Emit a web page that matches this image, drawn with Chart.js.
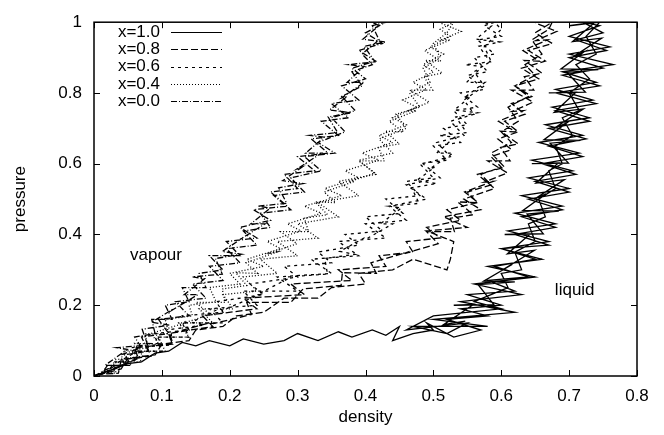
<!DOCTYPE html>
<html>
<head>
<meta charset="utf-8">
<script src="https://cdn.jsdelivr.net/npm/chart.js@4.4.1/dist/chart.umd.min.js"></script>
<style>
  body { margin: 0; background: #fff; }
  #wrap { width: 664px; height: 435px; position: relative; }
</style>
</head>
<body>
<div id="wrap"><canvas id="grafico"></canvas></div>
<script>
// series labels and tick values
const seriesLabels = ['x=1.0', 'x=0.8', 'x=0.6', 'x=0.4', 'x=0.0'];
const densityTicks = [0, 0.1, 0.2, 0.3, 0.4, 0.5, 0.6, 0.7, 0.8];
const pressureTicks = [0, 0.2, 0.4, 0.6, 0.8, 1];

// [density, pressure] (each run wanders up and down its band)
const x10 = [
  [0,0],[0.03,0.02],[0.05,0.035],[0.07,0.04],[0.09,0.065],[0.11,0.07],[0.13,0.095],[0.15,0.085],[0.17,0.1],
  [0.2,0.085],[0.22,0.105],[0.25,0.09],[0.28,0.1],[0.3,0.12],[0.33,0.1],[0.36,0.125],[0.38,0.11],[0.41,0.13],
  [0.43,0.115],[0.45,0.14],[0.44,0.1],[0.47,0.12],[0.5,0.13],[0.49,0.15],
  [0.53,0.11],[0.57,0.13],[0.52,0.16],[0.58,0.17],[0.54,0.19],[0.6,0.2],[0.55,0.23],[0.62,0.24],[0.58,0.27],
  [0.64,0.28],[0.59,0.31],[0.65,0.33],[0.6,0.36],[0.67,0.37],[0.62,0.4],[0.68,0.42],[0.63,0.45],[0.69,0.47],
  [0.64,0.5],[0.7,0.52],[0.65,0.55],[0.71,0.57],[0.66,0.6],[0.72,0.62],[0.67,0.65],[0.725,0.67],[0.67,0.7],
  [0.73,0.72],[0.68,0.75],[0.74,0.77],[0.68,0.8],[0.745,0.82],[0.69,0.85],[0.75,0.87],[0.7,0.9],[0.755,0.92],
  [0.71,0.95],[0.75,0.97],[0.72,1.0],
  [0.745,0.99],[0.7,0.96],[0.76,0.93],[0.7,0.91],[0.765,0.88],[0.69,0.86],[0.74,0.83],[0.68,0.81],[0.735,0.78],
  [0.675,0.76],[0.73,0.73],[0.665,0.71],[0.72,0.68],[0.655,0.66],[0.715,0.63],[0.645,0.61],[0.705,0.58],
  [0.64,0.56],[0.7,0.53],[0.63,0.51],[0.69,0.48],[0.62,0.46],[0.68,0.43],[0.61,0.41],[0.67,0.38],[0.6,0.36],
  [0.66,0.33],[0.58,0.31],[0.65,0.28],[0.56,0.26],[0.63,0.23],[0.54,0.21],[0.62,0.18],[0.5,0.16],[0.58,0.14],
  [0.47,0.14],[0.52,0.12],[0.55,0.15],[0.46,0.13],
  [0.5,0.17],[0.6,0.19],[0.56,0.21],[0.61,0.25],[0.6,0.29],[0.63,0.3],[0.62,0.35],[0.65,0.38],[0.64,0.43],
  [0.665,0.45],[0.655,0.5],[0.68,0.53],[0.67,0.58],[0.69,0.6],[0.68,0.65],[0.705,0.68],[0.69,0.73],[0.715,0.75],
  [0.7,0.8],[0.73,0.84],[0.71,0.88],[0.74,0.91],[0.725,0.96],[0.745,1.0]
];
const x10b = [
  [0.70,0.99],[0.738,1.0],[0.705,0.945],[0.748,0.955],[0.703,0.899],[0.721,0.915],[0.688,0.868],[0.743,0.866],
  [0.697,0.858],[0.724,0.802],[0.67,0.8],[0.71,0.802],[0.678,0.745],[0.721,0.755],[0.677,0.699],[0.696,0.715],
  [0.663,0.668],[0.717,0.666],[0.672,0.658],[0.699,0.602],[0.645,0.6],[0.684,0.602],[0.651,0.545],[0.693,0.555],
  [0.648,0.499],[0.666,0.515],[0.632,0.468],[0.685,0.466],[0.638,0.458],[0.662,0.402],[0.605,0.4],[0.643,0.402],
  [0.609,0.345],[0.649,0.355],[0.601,0.299],[0.616,0.315],[0.574,0.268],[0.62,0.266],[0.566,0.258],[0.589,0.202],
  [0.53,0.2],[0.559,0.202],[0.515,0.145],[0.547,0.155]
];
const x08 = [
  [0,0],[0.03,0.02],[0.065,0.05],[0.06,0.08],[0.115,0.09],[0.11,0.12],[0.175,0.14],[0.16,0.17],[0.24,0.19],
  [0.22,0.22],[0.31,0.23],[0.29,0.26],[0.38,0.27],[0.36,0.3],[0.43,0.31],[0.42,0.34],[0.47,0.35],[0.46,0.38],
  [0.51,0.39],[0.49,0.42],[0.54,0.44],[0.52,0.47],[0.565,0.49],[0.55,0.52],[0.585,0.54],[0.57,0.57],[0.6,0.59],
  [0.585,0.62],[0.615,0.64],[0.595,0.67],[0.625,0.69],[0.605,0.72],[0.635,0.74],[0.615,0.77],[0.645,0.79],
  [0.62,0.82],[0.655,0.84],[0.63,0.87],[0.665,0.89],[0.64,0.92],[0.675,0.94],[0.65,0.97],[0.675,1.0],
  [0.67,0.98],[0.645,0.95],[0.66,0.91],[0.635,0.88],[0.65,0.85],[0.62,0.82],[0.64,0.79],[0.61,0.76],[0.625,0.72],
  [0.6,0.69],[0.615,0.66],[0.585,0.63],[0.605,0.59],[0.565,0.57],[0.59,0.53],[0.545,0.5],[0.57,0.47],[0.515,0.45],
  [0.55,0.42],[0.49,0.41],[0.53,0.38],[0.525,0.33],[0.52,0.3],[0.47,0.33],[0.44,0.3],[0.39,0.29],[0.4,0.26],
  [0.35,0.25],[0.33,0.22],[0.28,0.22],[0.25,0.18],[0.21,0.17],[0.19,0.14],[0.15,0.13],[0.14,0.1],[0.1,0.09],
  [0.09,0.06],[0.05,0.05],[0.04,0.02],[0.01,0.005]
];
const x08b = [
  [0.036,0.008],[0.04,0.046],[0.084,0.056],[0.076,0.092],[0.116,0.09],[0.112,0.12],[0.17,0.15],[0.176,0.148],
  [0.232,0.174],[0.225,0.208],[0.29,0.208],[0.308,0.246],[0.364,0.256],[0.366,0.292],[0.416,0.29],[0.408,0.32],
  [0.462,0.35],[0.461,0.348],[0.507,0.374],[0.49,0.408],[0.531,0.408],[0.525,0.446],[0.559,0.456],[0.536,0.492],
  [0.566,0.49],[0.546,0.52],[0.588,0.55],[0.575,0.548],[0.609,0.574],[0.58,0.608],[0.613,0.608],[0.599,0.646],
  [0.625,0.656],[0.599,0.692],[0.621,0.69],[0.596,0.72],[0.633,0.75],[0.616,0.748],[0.647,0.774],[0.615,0.808],
  [0.648,0.808],[0.634,0.846],[0.66,0.856],[0.634,0.892],[0.656,0.89],[0.632,0.92],[0.668,0.95],[0.651,0.948],
  [0.682,0.974],[0.65,0.998]
];
const x06 = [
  [0,0],[0.03,0.02],[0.06,0.05],[0.055,0.08],[0.1,0.09],[0.09,0.12],[0.14,0.13],[0.13,0.17],[0.19,0.18],
  [0.18,0.21],[0.25,0.23],[0.23,0.26],[0.3,0.28],[0.28,0.31],[0.35,0.32],[0.33,0.35],[0.39,0.37],[0.37,0.4],
  [0.425,0.41],[0.4,0.45],[0.455,0.46],[0.43,0.5],[0.48,0.51],[0.46,0.55],[0.5,0.56],[0.48,0.6],[0.52,0.61],
  [0.5,0.65],[0.54,0.66],[0.515,0.7],[0.55,0.71],[0.53,0.75],[0.565,0.76],[0.54,0.8],[0.575,0.81],[0.55,0.85],
  [0.58,0.86],[0.56,0.9],[0.59,0.91],[0.565,0.95],[0.6,0.96],[0.575,0.99],[0.59,1.0],
  [0.6,0.98],[0.575,0.93],[0.585,0.89],[0.56,0.86],[0.575,0.82],[0.545,0.78],[0.56,0.74],[0.525,0.72],
  [0.545,0.68],[0.505,0.66],[0.525,0.62],[0.485,0.6],[0.51,0.56],[0.46,0.54],[0.49,0.5],[0.435,0.48],[0.46,0.44],
  [0.4,0.43],[0.43,0.39],[0.36,0.38],[0.39,0.34],[0.32,0.33],[0.35,0.29],[0.27,0.28],[0.3,0.24],[0.22,0.24],
  [0.24,0.2],[0.17,0.19],[0.19,0.15],[0.13,0.15],[0.14,0.11],[0.09,0.11],[0.1,0.07],[0.06,0.07],[0.06,0.04],
  [0.03,0.04],[0.02,0.01]
];
const x06b = [
  [0.038,0.03],[0.028,0.03],[0.068,0.075],[0.06,0.08],[0.114,0.088],[0.114,0.132],[0.162,0.144],[0.144,0.152],
  [0.184,0.19],[0.19,0.186],[0.244,0.23],[0.24,0.23],[0.286,0.275],[0.284,0.28],[0.344,0.288],[0.34,0.332],
  [0.384,0.344],[0.362,0.352],[0.398,0.39],[0.40,0.386],[0.44,0.43],[0.422,0.43],[0.453,0.475],[0.435,0.48],
  [0.479,0.488],[0.468,0.532],[0.505,0.544],[0.475,0.552],[0.502,0.59],[0.495,0.586],[0.529,0.63],[0.505,0.63],
  [0.531,0.675],[0.509,0.68],[0.549,0.688],[0.533,0.732],[0.565,0.744],[0.531,0.752],[0.555,0.79],[0.545,0.786],
  [0.576,0.83],[0.549,0.83],[0.572,0.875],[0.547,0.88],[0.584,0.888],[0.567,0.932],[0.598,0.944],[0.563,0.952],
  [0.586,0.99],[0.575,1.0]
];
const x04 = [
  [0,0],[0.03,0.02],[0.05,0.04],[0.045,0.07],[0.08,0.08],[0.075,0.12],[0.11,0.12],[0.105,0.16],[0.145,0.17],
  [0.14,0.2],[0.18,0.21],[0.17,0.25],[0.215,0.26],[0.2,0.29],[0.25,0.31],[0.225,0.33],[0.275,0.36],[0.255,0.38],
  [0.305,0.41],[0.285,0.43],[0.335,0.46],[0.31,0.48],[0.365,0.51],[0.34,0.53],[0.39,0.56],[0.37,0.58],[0.42,0.61],
  [0.395,0.63],[0.44,0.66],[0.42,0.68],[0.46,0.71],[0.44,0.73],[0.475,0.76],[0.455,0.78],[0.49,0.81],[0.47,0.83],
  [0.5,0.86],[0.485,0.88],[0.515,0.91],[0.495,0.93],[0.525,0.96],[0.51,0.98],[0.53,1.0],
  [0.52,0.97],[0.5,0.94],[0.51,0.9],[0.485,0.87],[0.495,0.83],[0.465,0.8],[0.48,0.76],[0.445,0.74],[0.46,0.7],
  [0.42,0.67],[0.44,0.63],[0.39,0.61],[0.415,0.57],[0.36,0.55],[0.39,0.51],[0.33,0.49],[0.36,0.45],[0.3,0.43],
  [0.33,0.39],[0.27,0.38],[0.3,0.34],[0.245,0.33],[0.27,0.29],[0.22,0.28],[0.24,0.24],[0.19,0.23],[0.205,0.19],
  [0.155,0.19],[0.175,0.15],[0.125,0.15],[0.14,0.11],[0.095,0.11],[0.105,0.07],[0.06,0.07],[0.07,0.04],
  [0.03,0.04],[0.02,0.01]
];
const x04b = [
  [0.032,0.008],[0.032,0.046],[0.072,0.056],[0.06,0.092],[0.096,0.09],[0.084,0.12],[0.134,0.15],[0.13,0.148],
  [0.171,0.174],[0.15,0.208],[0.193,0.208],[0.189,0.246],[0.225,0.256],[0.209,0.292],[0.241,0.29],[0.224,0.32],
  [0.269,0.35],[0.26,0.348],[0.299,0.374],[0.275,0.408],[0.316,0.408],[0.31,0.446],[0.344,0.456],[0.326,0.492],
  [0.356,0.49],[0.339,0.52],[0.384,0.55],[0.375,0.548],[0.414,0.574],[0.39,0.608],[0.428,0.608],[0.419,0.646],
  [0.45,0.656],[0.429,0.692],[0.456,0.69],[0.435,0.72],[0.475,0.75],[0.461,0.748],[0.494,0.774],[0.465,0.808],
  [0.499,0.808],[0.486,0.846],[0.513,0.856],[0.488,0.892],[0.511,0.89],[0.487,0.92],[0.525,0.95],[0.509,0.948],
  [0.541,0.974],[0.51,0.998]
];
const x00 = [
  [0,0],[0.02,0.02],[0.045,0.03],[0.04,0.06],[0.07,0.08],[0.06,0.11],[0.09,0.12],[0.085,0.16],[0.115,0.16],
  [0.105,0.2],[0.14,0.21],[0.13,0.25],[0.165,0.25],[0.155,0.29],[0.19,0.3],[0.17,0.34],[0.215,0.34],[0.195,0.38],
  [0.24,0.39],[0.215,0.42],[0.26,0.44],[0.235,0.47],[0.285,0.48],[0.26,0.52],[0.3,0.53],[0.28,0.57],[0.325,0.58],
  [0.3,0.62],[0.345,0.63],[0.32,0.67],[0.36,0.68],[0.335,0.72],[0.375,0.73],[0.35,0.77],[0.39,0.78],[0.365,0.82],
  [0.4,0.84],[0.38,0.87],[0.415,0.89],[0.39,0.92],[0.425,0.94],[0.4,0.97],[0.43,1.0],
  [0.41,0.99],[0.42,0.95],[0.395,0.91],[0.41,0.88],[0.38,0.86],[0.395,0.82],[0.365,0.79],[0.385,0.75],[0.35,0.73],
  [0.37,0.69],[0.33,0.66],[0.355,0.63],[0.31,0.62],[0.335,0.58],[0.29,0.56],[0.31,0.52],[0.265,0.51],[0.29,0.47],
  [0.245,0.46],[0.26,0.42],[0.22,0.41],[0.24,0.37],[0.195,0.36],[0.215,0.32],[0.17,0.31],[0.19,0.27],[0.145,0.26],
  [0.165,0.22],[0.12,0.21],[0.14,0.17],[0.095,0.16],[0.11,0.12],[0.07,0.11],[0.08,0.07],[0.045,0.06],[0.055,0.03],
  [0.02,0.03],[0.01,0.005]
];
const x00b = [
  [0.032,0.03],[0.016,0.03],[0.049,0.075],[0.033,0.08],[0.079,0.088],[0.071,0.132],[0.111,0.144],[0.085,0.152],
  [0.117,0.19],[0.115,0.186],[0.153,0.23],[0.133,0.23],[0.163,0.275],[0.145,0.28],[0.189,0.288],[0.179,0.332],
  [0.217,0.344],[0.189,0.352],[0.219,0.39],[0.215,0.386],[0.252,0.43],[0.231,0.43],[0.26,0.475],[0.241,0.48],
  [0.284,0.488],[0.272,0.532],[0.308,0.544],[0.278,0.552],[0.306,0.59],[0.30,0.586],[0.335,0.63],[0.312,0.63],
  [0.339,0.675],[0.318,0.68],[0.359,0.688],[0.345,0.732],[0.379,0.744],[0.347,0.752],[0.373,0.79],[0.365,0.786],
  [0.398,0.83],[0.373,0.83],[0.398,0.875],[0.375,0.88],[0.414,0.888],[0.398,0.932],[0.43,0.944],[0.396,0.952],
  [0.42,0.99],[0.41,1.0]
];
const seriesData = [x10.concat(x10b), x08.concat(x08b), x06.concat(x06b), x04.concat(x04b), x00.concat(x00b)];
const seriesDash = [[], [7, 3], [3, 4], [1, 2], [6, 2, 1, 2]];

const FONTE = '17px "Liberation Sans", Arial, sans-serif';
Chart.defaults.color = '#000';
Chart.defaults.font.family = '"Liberation Sans", Arial, sans-serif';
Chart.defaults.font.size = 17;

// gnuplot style: box border, ticks pointing in on all four sides
const molduraPlugin = {
  id: 'moldura',
  afterDatasetsDraw(chart) {
    const { ctx, chartArea: a, scales: { x, y } } = chart;
    ctx.save();
    ctx.strokeStyle = '#000';
    ctx.lineWidth = 1;
    ctx.setLineDash([]);
    ctx.beginPath();
    densityTicks.forEach(v => {
      const px = Math.round(x.getPixelForValue(v)) + 0.5;
      ctx.moveTo(px, a.bottom); ctx.lineTo(px, a.bottom - 6);
      ctx.moveTo(px, a.top); ctx.lineTo(px, a.top + 6);
    });
    pressureTicks.forEach(v => {
      const py = Math.round(y.getPixelForValue(v)) + 0.5;
      ctx.moveTo(a.left, py); ctx.lineTo(a.left + 6, py);
      ctx.moveTo(a.right, py); ctx.lineTo(a.right - 6, py);
    });
    ctx.stroke();
    ctx.lineWidth = 1.5;
    ctx.strokeRect(a.left, a.top, a.right - a.left, a.bottom - a.top);

    // legend: text right aligned, line sample on the right
    ctx.font = FONTE;
    ctx.fillStyle = '#000';
    ctx.textAlign = 'right';
    ctx.textBaseline = 'middle';
    ctx.lineWidth = 1;
    chart.data.datasets.forEach((ds, i) => {
      const yy = 32 + i * 17.3;
      ctx.fillText(ds.label, 160, yy);
      ctx.setLineDash(ds.borderDash);
      ctx.beginPath();
      ctx.moveTo(171, Math.round(yy) + 0.5);
      ctx.lineTo(222, Math.round(yy) + 0.5);
      ctx.stroke();
    });
    ctx.setLineDash([]);

    ctx.textAlign = 'left';
    ctx.fillText('vapour', x.getPixelForValue(0.053), y.getPixelForValue(0.34));
    ctx.fillText('liquid', x.getPixelForValue(0.679), y.getPixelForValue(0.242));
    ctx.restore();
  }
};

const ctx = document.getElementById('grafico').getContext('2d');
new Chart(ctx, {
  type: 'scatter',
  data: {
    datasets: seriesLabels.map((label, i) => ({
      label: label,
      data: seriesData[i].map(p => ({ x: p[0], y: p[1] })),
      showLine: true,
      borderColor: '#000',
      borderWidth: 1.3,
      borderDash: seriesDash[i],
      pointRadius: 0,
      tension: 0
    }))
  },
  options: {
    responsive: true,
    maintainAspectRatio: false,
    animation: false,
    layout: { padding: { left: 0, right: 27, top: 13, bottom: 0 } },
    plugins: { legend: { display: false }, tooltip: { enabled: false } },
    scales: {
      x: {
        type: 'linear',
        min: 0,
        max: 0.8,
        afterFit: s => { s.height = 59; },
        afterBuildTicks: s => { s.ticks = densityTicks.map(v => ({ value: v })); },
        grid: { display: false, drawTicks: false },
        border: { display: false },
        ticks: { padding: 10, callback: v => String(+v.toFixed(1)) },
        title: { display: true, text: 'density', padding: { top: 0, bottom: 7 } }
      },
      y: {
        type: 'linear',
        min: 0,
        max: 1,
        afterFit: s => { s.width = 94; },
        afterBuildTicks: s => { s.ticks = pressureTicks.map(v => ({ value: v })); },
        grid: { display: false, drawTicks: false },
        border: { display: false },
        ticks: { padding: 12, callback: v => String(+v.toFixed(1)) },
        title: { display: true, text: 'pressure', padding: { top: 10, bottom: 0 } }
      }
    }
  },
  plugins: [molduraPlugin]
});
</script>
</body>
</html>
